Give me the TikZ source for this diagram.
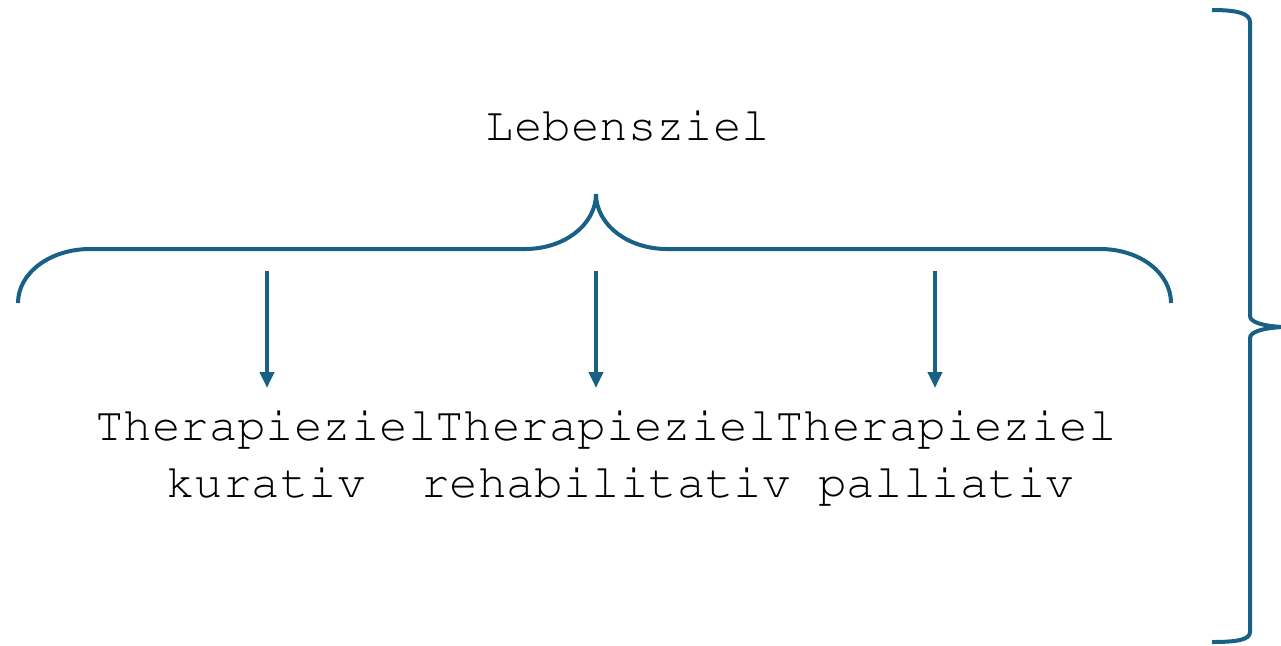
\documentclass[tikz,border=0pt]{standalone}
\usepackage[T1]{fontenc}
\usepackage{courier}
\usetikzlibrary{arrows.meta}
\definecolor{bracecol}{RGB}{24,96,132}
\tikzset{
    goal/.style = {font=\ttfamily\fontsize{23.7}{28.3}\selectfont,
        inner sep=0pt, align=center},
    arrow/.style = {draw, bracecol, line width=2pt,
        -{Triangle[width=7pt,length=8pt]}},
    brace/.style = {draw, bracecol, line width=2pt}
}

\begin{document}
\begin{tikzpicture}[x=0.5pt, y=-0.5pt]
    \useasboundingbox (0,0) rectangle (1281,645);
    \node [goal, anchor=base] (life) at (628,140) {Lebensziel};
    \node [goal, anchor=north] (cure) at (266,410) {Therapieziel\\kurativ};
    \node [goal, anchor=north] (rehab) at ([xshift=170pt]cure.north) {Therapieziel\\rehabilitativ};
    \node [goal, anchor=north] (care) at ([xshift=170pt]rehab.north) {Therapieziel\\palliativ};
    \coordinate (a1) at (267,271);
    \coordinate (a2) at (596,271);
    \coordinate (a3) at (935,271);

    % brace under the life goal
    \draw [brace] (18,303) .. controls (18,273) and (50,249) .. (90,249)
        -- (525,249) .. controls (565,249) and (596,224) .. (596,194)
        .. controls (596,224) and (627,249) .. (667,249)
        -- (1100,249) .. controls (1140,249) and (1171,273) .. (1171,303);
    % brace on the right
    \draw [brace] (1212,10) .. controls (1236,10) and (1250,13) .. (1250,22)
        -- (1250,316) .. controls (1250,322) and (1262,326) .. (1283,327)
        .. controls (1262,328) and (1250,332) .. (1250,338)
        -- (1250,632) .. controls (1250,640) and (1236,642) .. (1212,642);

    \draw [arrow] (a1) -- ([yshift=11pt]a1 |- cure.north);
    \draw [arrow] (a2) -- ([yshift=11pt]a2 |- rehab.north);
    \draw [arrow] (a3) -- ([yshift=11pt]a3 |- care.north);
\end{tikzpicture}
\end{document}
